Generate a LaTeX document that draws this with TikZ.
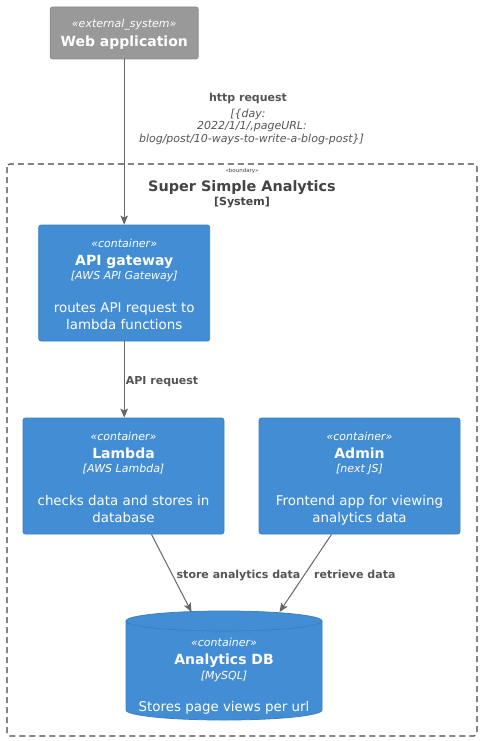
\documentclass[tikz,border=0pt]{standalone}
\usepackage{fontspec}
\setmainfont{DejaVu Sans}
\usetikzlibrary{arrows.meta}
\definecolor{cblue}{HTML}{438DD5}
\definecolor{cblueb}{HTML}{3C7FC0}
\definecolor{cblued}{HTML}{3A7BBE}
\definecolor{extg}{HTML}{999999}
\definecolor{extgb}{HTML}{8A8A8A}
\definecolor{arrg}{HTML}{666666}
\definecolor{labg}{HTML}{555555}
\definecolor{bndg}{HTML}{444444}
\newcommand{\fsz}[1]{\fontsize{#1}{#1}\selectfont}
\begin{document}
\begin{tikzpicture}[x=1pt,y=-1pt,
  cbox/.style={draw=cblueb, fill=cblue, line width=0.8pt, rounded corners=2.5pt, minimum height=116pt, inner sep=0},
  extbox/.style={draw=extgb, fill=extg, line width=0.8pt, rounded corners=2.5pt, inner sep=0},
  wt/.style={inner sep=0, anchor=base, text=white},
  lt/.style={inner sep=0, anchor=base, text=labg},
  conn/.style={draw=arrg, line width=1pt, -{Stealth[length=9pt,width=7.5pt,inset=2pt]}},
  stereo/.style={font=\fsz{11}\itshape},
  ttl/.style={font=\fsz{14}\bfseries},
  tech/.style={font=\fsz{11}\itshape},
  dsc/.style={font=\fsz{13.4}},
  lbl/.style={font=\fsz{11}\bfseries},
  lbli/.style={font=\fsz{11}\itshape}
]
\useasboundingbox (0,0) rectangle (482,741);
\fill[white] (0,0) rectangle (482,741);

% boundary
\draw[bndg, line width=1.1pt, dash pattern=on 6pt off 4pt, rounded corners=3pt] (7,164) rectangle (477,736);
\node[inner sep=0, anchor=base, text=bndg, font=\fsz{5.5}] (bst) at (242,172) {«boundary»};
\node[inner sep=0, anchor=base, text=bndg, font=\fsz{14.4}\bfseries] (bttl) at (242,191.5) {Super Simple Analytics};
\node[inner sep=0, anchor=base, text=bndg, font=\fsz{11}\bfseries] (bsys) at (242,205) {[System]};

% external system
\node[extbox, minimum width=148pt, minimum height=52pt] (web) at (124.2,33) {};
\node[wt, stereo] at (124.2,28) {«external\_system»};
\node[wt, ttl] at (124.2,46.5) {Web application};

% API gateway
\node[cbox, minimum width=171pt] (api) at (124.2,283) {};
\node[wt, stereo] at (124.2,247) {«container»};
\node[wt, ttl] at (124.2,265) {API gateway};
\node[wt, tech] at (124.2,279) {[AWS API Gateway]};
\node[wt, dsc] at (124.2,312) {routes API request to};
\node[wt, dsc] at (124.2,329) {lambda functions};

% Lambda
\node[cbox, minimum width=201pt] (lambda) at (123.5,476) {};
\node[wt, stereo] at (123.5,440) {«container»};
\node[wt, ttl] at (123.5,458) {Lambda};
\node[wt, tech] at (123.5,472.5) {[AWS Lambda]};
\node[wt, dsc] at (123.5,505) {checks data and stores in};
\node[wt, dsc] at (123.5,522) {database};

% Admin
\node[cbox, minimum width=201pt] (admin) at (359.5,476) {};
\node[wt, stereo] at (359.5,440) {«container»};
\node[wt, ttl] at (359.5,458) {Admin};
\node[wt, tech] at (359.5,472.5) {[next JS]};
\node[wt, dsc] at (359.5,505) {Frontend app for viewing};
\node[wt, dsc] at (359.5,522) {analytics data};

% Analytics DB cylinder
\node[inner sep=0, minimum width=196pt, minimum height=109pt] (db) at (224,665.5) {};
\fill[cblue, draw=cblueb, line width=0.8pt] (126,621) -- (126,710) arc[start angle=180, end angle=0, x radius=98, y radius=10] -- (322,621) arc[start angle=0, end angle=-180, x radius=98, y radius=10] -- cycle;
\draw[cblued, line width=0.6pt] (126,621) arc[start angle=180, end angle=0, x radius=98, y radius=10];
\node[wt, stereo] at (224,646) {«container»};
\node[wt, ttl] at (224,664) {Analytics DB};
\node[wt, tech] at (224,679) {[MySQL]};
\node[wt, dsc] at (224,711) {Stores page views per url};
\coordinate (dbL) at (191.5,612);
\coordinate (dbR) at (279.5,612);

% connectors
\draw[conn] (web.south) -- (api.north);
\node[lt, lbl] at (248,101.7) {http request};
\node[lt, lbli] at (248,117.3) {[\{day:};
\node[lt, lbli] at (252,130) {2022/1/1/,pageURL:};
\node[lt, lbli] at (251.5,142.5) {blog/post/10-ways-to-write-a-blog-post\}]};

\draw[conn] (api.south) -- (api.south |- lambda.north);
\node[lt, lbl, anchor=base west] at (125.7,384.5) {API request};

\draw[conn] ([xshift=28pt]lambda.south) -- (dbL);
\node[lt, lbl, anchor=base west] at (176.5,578) {store analytics data};

\draw[conn] ([xshift=-28pt]admin.south) -- (dbR);
\node[lt, lbl, anchor=base west] at (314,578) {retrieve data};
\end{tikzpicture}
\end{document}
